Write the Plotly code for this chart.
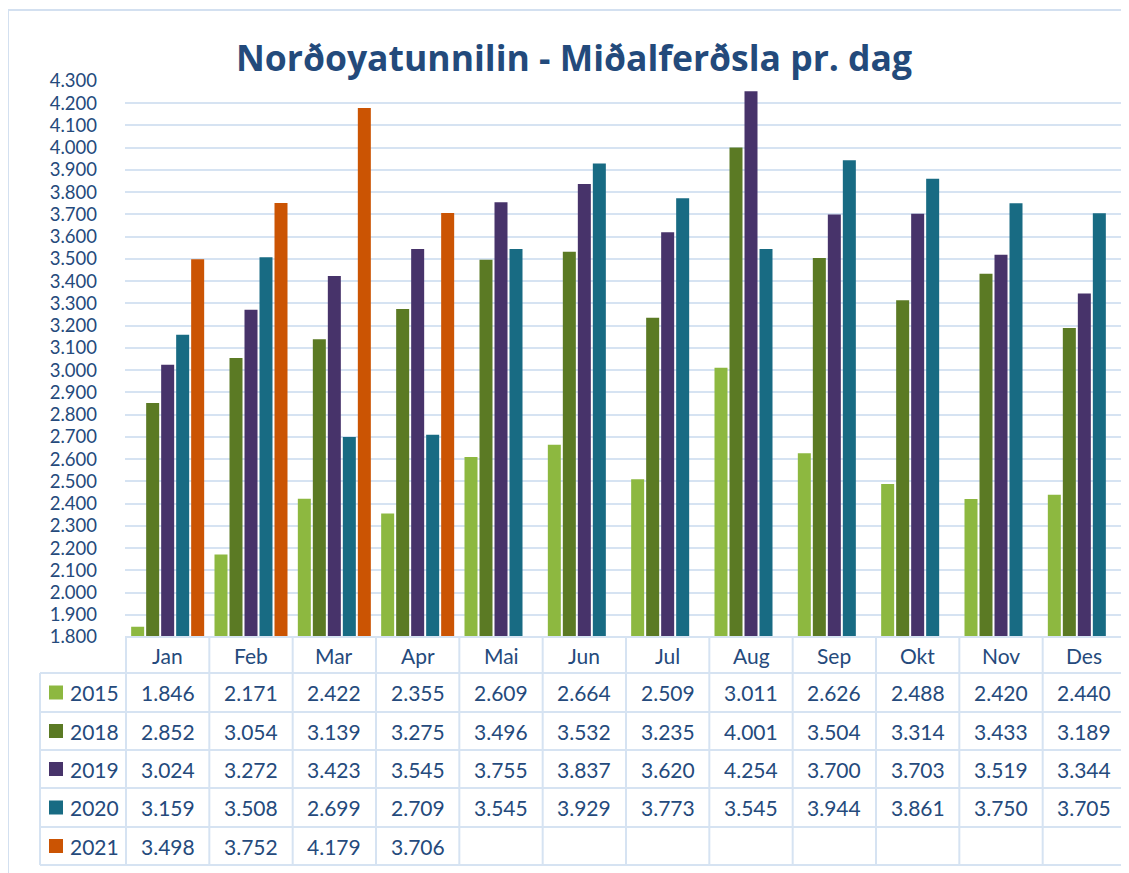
import plotly.graph_objects as go

# page is offset by the 8px body margin; the figure is sized to fit the window
OX, OY = 8, 8
W, H = 1129 - OX, 873 - OY

months = ["Jan", "Feb", "Mar", "Apr", "Mai", "Jun", "Jul", "Aug", "Sep", "Okt", "Nov", "Des"]
years = ["2015", "2018", "2019", "2020", "2021"]

v2015 = [1846, 2171, 2422, 2355, 2609, 2664, 2509, 3011, 2626, 2488, 2420, 2440]
v2018 = [2852, 3054, 3139, 3275, 3496, 3532, 3235, 4001, 3504, 3314, 3433, 3189]
v2019 = [3024, 3272, 3423, 3545, 3755, 3837, 3620, 4254, 3700, 3703, 3519, 3344]
v2020 = [3159, 3508, 2699, 2709, 3545, 3929, 3773, 3545, 3944, 3861, 3750, 3705]
v2021 = [3498, 3752, 4179, 3706, None, None, None, None, None, None, None, None]

series = [v2015, v2018, v2019, v2020, v2021]
colors = ["#8DB840", "#5B7A24", "#47336A", "#186B83", "#CB5403"]

TEXT = "#254A7C"
GRID = "#D6E3F2"
FONT = "Lato"


def px(x):
    return (x - OX) / W


def py(y):
    return 1 - (y - OY) / H


plot_left, plot_right = 125, 1127
plot_top, plot_bottom = 81, 637

fig = go.Figure()
for name, vals, col in zip(years, series, colors):
    fig.add_trace(go.Bar(x=months, y=vals, name=name, marker=dict(color=col, line=dict(width=0)),
                         showlegend=False))

row_edges = [637, 673, 712, 750, 788, 827, 865]
shapes = []
line = dict(color=GRID, width=2)
shapes.append(dict(type="line", xref="paper", yref="paper", x0=px(plot_left), x1=px(plot_right),
                   y0=py(row_edges[0]), y1=py(row_edges[0]), line=line))
for ye in row_edges[1:]:
    shapes.append(dict(type="line", xref="paper", yref="paper", x0=px(40), x1=px(plot_right),
                       y0=py(ye), y1=py(ye), line=line))
shapes.append(dict(type="line", xref="paper", yref="paper", x0=px(40), x1=px(40),
                   y0=py(row_edges[1]), y1=py(row_edges[-1]), line=line))
for k in range(len(months) + 1):
    shapes.append(dict(type="line", xref="x", yref="paper", x0=k - 0.5, x1=k - 0.5,
                       y0=py(row_edges[0]), y1=py(row_edges[-1]), line=line))
# chart border
shapes.append(dict(type="line", xref="paper", yref="paper", x0=px(8), x1=px(8),
                   y0=py(10), y1=py(873), line=dict(color="#D3E0F0", width=2)))
shapes.append(dict(type="line", xref="paper", yref="paper", x0=px(7), x1=px(1129),
                   y0=py(10), y1=py(10), line=dict(color="#D3E0F0", width=2)))

annotations = []
tfont = dict(family=FONT, size=21, color=TEXT)
hdr_c = (row_edges[0] + row_edges[1]) / 2
for m in months:
    annotations.append(dict(x=m, y=py(hdr_c), xref="x", yref="paper", text=m, showarrow=False,
                            font=tfont, xanchor="center", yanchor="middle"))


def fmt(v):
    return f"{v:,}".replace(",", ".")


for r, (name, vals, col) in enumerate(zip(years, series, colors)):
    yc = (row_edges[r + 1] + row_edges[r + 2]) / 2
    shapes.append(dict(type="rect", xref="paper", yref="paper", x0=px(49), x1=px(63),
                       y0=py(yc - 7), y1=py(yc + 7), fillcolor=col, line=dict(width=0)))
    annotations.append(dict(x=px(68), y=py(yc), xref="paper", yref="paper", text=name,
                            showarrow=False, font=tfont, xanchor="left", yanchor="middle"))
    for m, v in zip(months, vals):
        if v is None:
            continue
        annotations.append(dict(x=m, y=py(yc), xref="x", yref="paper", text=fmt(v),
                                showarrow=False, font=tfont, xanchor="center", yanchor="middle"))

annotations.append(dict(x=px(574), y=py(57), xref="paper", yref="paper",
                        text="<b>Norðoyatunnilin - Miðalferðsla pr. dag</b>", showarrow=False,
                        xanchor="center", yanchor="middle",
                        font=dict(family="Open Sans", size=35.5, color="#234A7B")))

fig.update_layout(
    template="none",
    width=W, height=H,
    margin=dict(l=0, r=0, t=0, b=0, autoexpand=False),
    paper_bgcolor="white", plot_bgcolor="white",
    separators=",.",
    barmode="group", bargap=0.10, bargroupgap=0.133,
    xaxis=dict(domain=[px(plot_left), px(plot_right)], showticklabels=False, showgrid=False,
               zeroline=False, showline=False, ticks="", automargin=False),
    yaxis=dict(domain=[py(plot_bottom), py(plot_top)], range=[1800, 4300], dtick=100,
               tickformat=",d", showgrid=True, gridcolor=GRID, gridwidth=2, zeroline=False,
               showline=False, ticks="", ticklabelstandoff=27, automargin=False,
               tickfont=dict(family=FONT, size=18.5, color=TEXT)),
    shapes=shapes, annotations=annotations,
)

fig.write_html("out.html", config={"displayModeBar": False})
